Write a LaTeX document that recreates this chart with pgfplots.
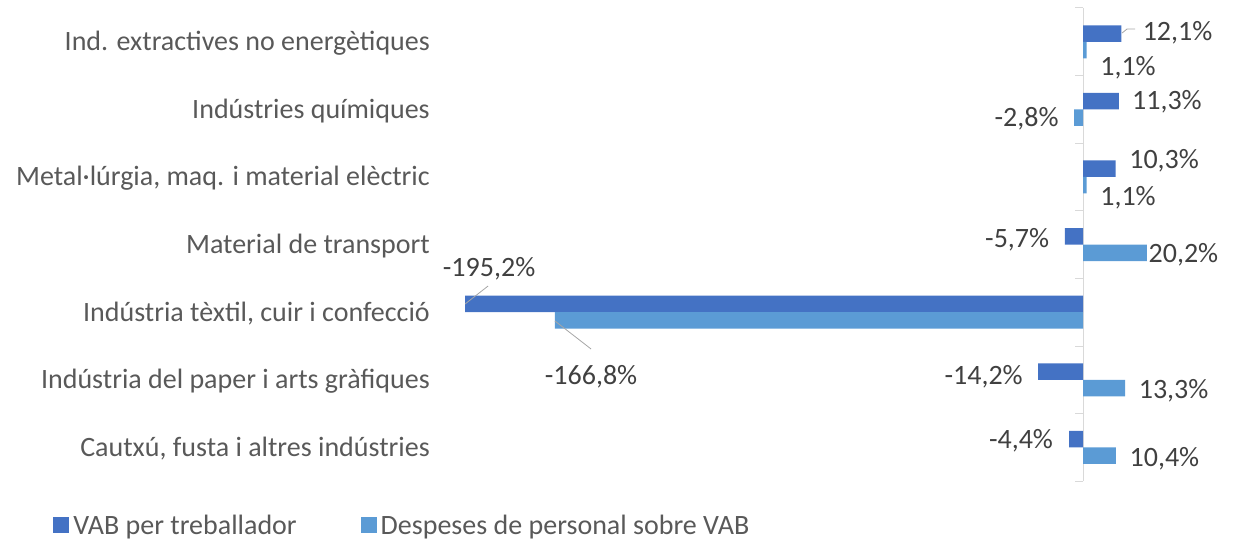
\documentclass[border=0pt]{standalone}
\usepackage{pgfplots}
\pgfplotsset{compat=1.18}
\usepackage{pgfplotstable}
\usepackage{fontspec}
\setmainfont{Carlito}
\definecolor{cA}{HTML}{4472C4}
\definecolor{cB}{HTML}{5B9BD5}
\definecolor{txt}{HTML}{404040}
\definecolor{cat}{HTML}{595959}
\definecolor{ax}{HTML}{D9D9D9}
\definecolor{lead}{HTML}{A6A6A6}
\newcommand\fs{\fontsize{28}{34}\selectfont}
\tikzset{lab/.style={font=\fs, text=txt, anchor=center, inner sep=0pt, text height=17.7pt, text depth=0pt}}

\pgfplotstableread{
k vab desp
0 -4.4 10.4
1 -14.2 13.3
2 -195.2 -166.8
3 -5.7 20.2
4 10.3 1.1
5 11.3 -2.8
6 12.1 1.1
}\data

\begin{document}
\begin{tikzpicture}
\useasboundingbox (0,0) rectangle (1238pt,538pt);
\begin{axis}[
  at={(434pt,56.8pt)}, anchor=south west,
  x=3.166pt, y=67.6pt,
  xmin=-205, xmax=45, ymin=-0.5, ymax=6.5,
  xbar, clip=false,
  axis line style={draw=none},
  xtick=\empty,
  ytick={0,1,2,3,4,5,6},
  yticklabels={{Cautxú, fusta i altres indústries},{Indústria del paper i arts gràfiques},{Indústria tèxtil, cuir i confecció},{Material de transport},{Metal·lúrgia, maq. i material elèctric},{Indústries químiques},{Ind. extractives no energètiques}},
  tick style={draw=none}, major tick length=0pt,
  yticklabel style={font=\fs, text=cat, anchor=east, inner xsep=0pt, xshift=-4pt, text height=18pt, text depth=0pt},
  legend columns=2,
  legend image code/.code={\fill[#1] (0pt,-8pt) rectangle (16pt,8pt);},
  legend style={at={(axis cs:-325.3,-1.148)}, anchor=west, draw=none, fill=none, inner sep=0pt,
    font=\fs, nodes={inner xsep=4pt, inner ysep=0pt, text=cat, text height=18pt, text depth=0pt},
    cells={anchor=center},
    /tikz/every even column/.append style={column sep=60pt}},
]
\draw[ax, line width=1pt] (axis cs:0,-0.5) -- (axis cs:0,6.5);
\pgfplotsinvokeforeach{-0.5,0.5,1.5,2.5,3.5,4.5,5.5,6.5}{
  \draw[ax, line width=1pt] (axis cs:0,#1) -- (axis cs:-2.53,#1);
}
\addplot[fill=cA, draw=none, bar width=16.5pt, bar shift=8.25pt] table[x=vab, y=k]{\data};
\addplot[fill=cB, draw=none, bar width=16.5pt, bar shift=-8.25pt] table[x=desp, y=k]{\data};
\legend{VAB per treballador, Despeses de personal sobre VAB}

% leader lines
\draw[lead, line width=0.8pt] (axis cs:12.32,6.130) -- (axis cs:13.9,6.189) -- (axis cs:16.42,6.189);
\draw[lead, line width=0.8pt] (axis cs:-195.2,2.121) -- (axis cs:-187.9,2.388);
\draw[lead, line width=0.8pt] (axis cs:-166.8,1.870) -- (axis cs:-155.4,1.456);

% data labels
\node[lab] at (axis cs:29.85,6.145) {12,1\%};
\node[lab] at (axis cs:14.2,5.627) {1,1\%};
\node[lab] at (axis cs:26.5,5.124) {11,3\%};
\node[lab] at (axis cs:-17.85,4.873) {-2,8\%};
\node[lab] at (axis cs:25.6,4.251) {10,3\%};
\node[lab] at (axis cs:14.2,3.704) {1,1\%};
\node[lab] at (axis cs:-20.8,3.083) {-5,7\%};
\node[lab] at (axis cs:31.7,2.861) {20,2\%};
\node[lab] at (axis cs:-187.6,2.654) {-195,2\%};
\node[lab] at (axis cs:-155.4,1.056) {-166,8\%};
\node[lab] at (axis cs:-31.4,1.056) {-14,2\%};
\node[lab] at (axis cs:28.6,0.849) {13,3\%};
\node[lab] at (axis cs:-19.6,0.110) {-4,4\%};
\node[lab] at (axis cs:25.7,-0.157) {10,4\%};
\end{axis}
\end{tikzpicture}
\end{document}
